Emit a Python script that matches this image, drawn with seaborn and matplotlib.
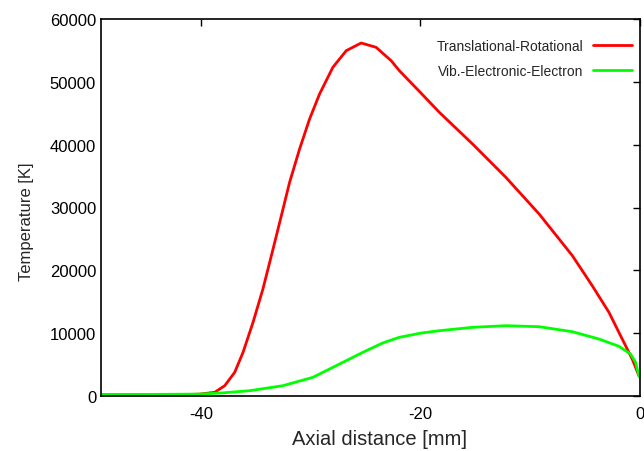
import matplotlib
matplotlib.use("Agg")
import matplotlib.pyplot as plt
import seaborn as sns
import pandas as pd

# Translational-Rotational temperature
tr_x = [-49.1, -45.0, -41.0, -40.1, -38.74, -37.83, -36.92, -36.16, -35.25, -34.35,
        -33.58, -32.67, -31.92, -31.01, -30.10, -29.19, -27.98, -26.76, -25.40, -24.04,
        -22.67, -21.92, -20.0, -18.28, -15.25, -12.22, -9.19, -6.16, -4.35, -2.83,
        -1.62, -0.71, -0.1, 0.0]
tr_y = [250, 250, 250, 300, 590, 1640, 3770, 6950, 11730, 17030,
        22330, 28700, 34010, 39310, 44085, 48065, 52310, 54960, 56180, 55490,
        53370, 51770, 48300, 45150, 40100, 34800, 28970, 22330, 17550, 13320,
        9070, 5890, 3230, 3000]

# Vib.-Electronic-Electron temperature
ve_x = [-49.1, -45.0, -40.1, -38.0, -35.55, -32.53, -29.8, -27.37, -25.25, -23.44,
        -21.92, -20.0, -18.28, -15.25, -12.22, -9.19, -6.16, -3.74, -1.92, -0.86,
        -0.40, -0.1, 0.0]
ve_y = [250, 250, 300, 500, 845, 1640, 2970, 5090, 6950, 8435,
        9340, 10000, 10390, 10930, 11190, 11030, 10230, 9070, 7910, 6680,
        5360, 3230, 3000]

labels = ["Translational-Rotational", "Vib.-Electronic-Electron"]
colors = ["#ff0000", "#00ff00"]

df_tr = pd.DataFrame({"x": tr_x, "y": tr_y, "series": labels[0]})
df_ve = pd.DataFrame({"x": ve_x, "y": ve_y, "series": labels[1]})
df = pd.concat([df_tr, df_ve], ignore_index=True)

sns.set_theme(style="white")
plt.rcParams["font.family"] = ["Liberation Sans", "DejaVu Sans"]
plt.rcParams["axes.unicode_minus"] = False

fig = plt.figure(figsize=(6.44, 4.52), dpi=100)
ax = fig.add_axes([101/644, 1 - 397/452, (640 - 101)/644, (397 - 20)/452])

sns.lineplot(data=df, x="x", y="y", hue="series", palette=colors, hue_order=labels,
             sort=False, estimator=None, linewidth=2.0, ax=ax)

ax.set_xlim(-49.1, 0)
ax.set_ylim(0, 60000)
ax.set_xticks([-40, -20, 0])
ax.set_yticks([0, 10000, 20000, 30000, 40000, 50000, 60000])
ax.set_xlabel("Axial distance [mm]", fontsize=14.5, labelpad=6)
ax.set_ylabel("Temperature [K]", fontsize=12, labelpad=11)
ax.xaxis.label.set_x(0.516)
ax.yaxis.label.set_y(0.465)
ax.tick_params(direction="in", length=5, width=1, top=True, right=True,
               labelsize=12, colors="black")
ax.tick_params(axis="x", pad=7)
ax.tick_params(axis="y", pad=3.5)
for s in ax.spines.values():
    s.set_color("black")
    s.set_linewidth(1.2)

leg = ax.legend(loc="upper right", bbox_to_anchor=(0.9954, 0.9615), borderaxespad=0,
                frameon=False, markerfirst=False, fontsize=10,
                handlelength=2.8, handletextpad=0.72, labelspacing=0.8)
for t in leg.get_texts():
    t.set_ha("right")

fig.savefig("out.png", dpi=100)
